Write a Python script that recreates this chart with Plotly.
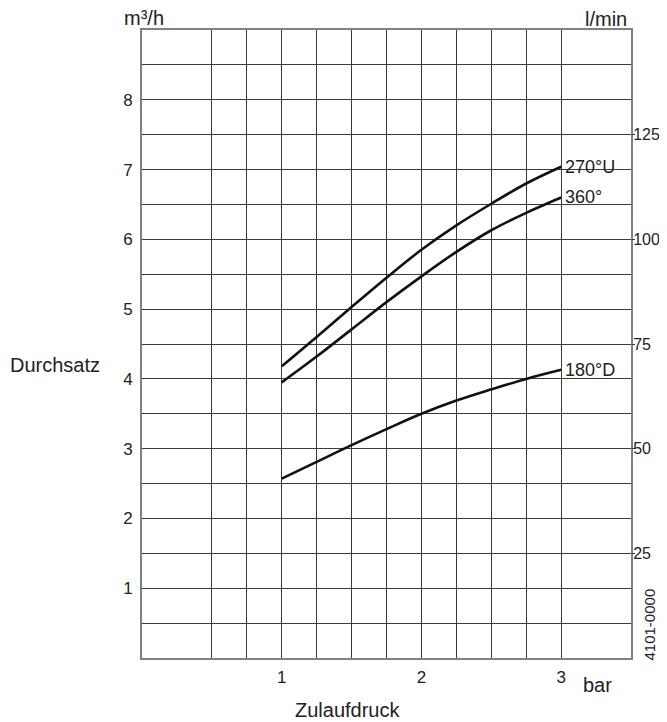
import plotly.graph_objects as go

# Data
pressure_bar = [1.0, 1.25, 1.5, 1.75, 2.0, 2.25, 2.5, 2.75, 3.0]
flow_270U = [4.18, 4.60, 5.03, 5.45, 5.85, 6.20, 6.51, 6.80, 7.04]
flow_360 = [3.95, 4.32, 4.71, 5.10, 5.47, 5.82, 6.13, 6.38, 6.60]
flow_180D = [2.57, 2.81, 3.05, 3.28, 3.50, 3.69, 3.85, 4.00, 4.13]
series_names = ["270°U", "360°", "180°D"]

x_grid = [0.5, 0.75, 1.0, 1.25, 1.5, 1.75, 2.0, 2.25, 2.5, 2.75, 3.0]
x_tick_labels = {1.0: "1", 2.0: "2", 3.0: "3"}
y_grid = [i * 0.5 for i in range(1, 18)]
y_tick_labels = {float(i): str(i) for i in range(1, 9)}
lmin_ticks = [25, 50, 75, 100, 125]

FONT = "Liberation Sans, Arial, sans-serif"
TXT = "#222222"
LINE = "#10101a"
GRID = "#3a3a3a"

fig = go.Figure()
for name, vals in zip(series_names, [flow_270U, flow_360, flow_180D]):
    fig.add_trace(go.Scatter(x=pressure_bar, y=vals, mode="lines", name=name,
                             line=dict(color=LINE, width=2.6, shape="spline", smoothing=1.0),
                             showlegend=False, hoverinfo="skip"))
    fig.add_annotation(x=pressure_bar[-1], y=vals[-1], text=name, showarrow=False,
                       xanchor="left", yanchor="middle", xshift=2,
                       font=dict(family=FONT, size=18, color=TXT))

# invisible trace on the secondary axis so it renders
fig.add_trace(go.Scatter(x=[0], y=[0], yaxis="y2", mode="markers",
                         marker=dict(opacity=0), showlegend=False, hoverinfo="skip"))

fig.update_layout(
    width=659, height=714,
    margin=dict(l=134, r=36, t=22, b=64, autoexpand=False),
    paper_bgcolor="white", plot_bgcolor="white",
    font=dict(family=FONT, size=17, color=TXT),
    xaxis=dict(range=[0, 3.5], tickvals=x_grid,
               ticktext=[x_tick_labels.get(v, "") for v in x_grid],
               showgrid=True, gridcolor=GRID, gridwidth=1, automargin=False,
               zeroline=False, showline=True, linecolor="#808080", linewidth=2,
               mirror=True, ticks="", ticklabelstandoff=3,
               tickfont=dict(size=17)),
    yaxis=dict(range=[0, 9], tickvals=y_grid,
               ticktext=[y_tick_labels.get(v, "") for v in y_grid],
               showgrid=True, gridcolor=GRID, gridwidth=1, automargin=False,
               zeroline=False, showline=True, linecolor="#808080", linewidth=2,
               mirror=True, ticks="", ticklabelstandoff=4,
               tickfont=dict(size=17)),
    yaxis2=dict(range=[0, 150], overlaying="y", side="right", automargin=False,
                tickvals=lmin_ticks, ticks="outside", ticklen=3, tickcolor=GRID,
                showgrid=False, zeroline=False, showline=False,
                ticklabelstandoff=-5, tickfont=dict(size=16)),
)

ann_font = dict(family=FONT, size=20, color=TXT)
fig.add_annotation(xref="paper", yref="paper", x=0, y=1, xanchor="center", yanchor="bottom",
                   xshift=2, yshift=-1, text="m³/h", showarrow=False, font=ann_font)
fig.add_annotation(xref="paper", yref="paper", x=1, y=1, xanchor="right", yanchor="bottom",
                   xshift=-2, yshift=-2, text="l/min", showarrow=False, font=ann_font)
fig.add_annotation(xref="paper", yref="y", x=-0.274, y=4.2, xanchor="left", yanchor="middle",
                   text="Durchsatz", showarrow=False, font=ann_font)
fig.add_annotation(xref="x", yref="paper", x=1.47, y=0, xanchor="center", yanchor="middle",
                   yshift=-52, text="Zulaufdruck", showarrow=False, font=ann_font)
fig.add_annotation(xref="x", yref="paper", x=3.26, y=0, xanchor="center", yanchor="middle",
                   yshift=-27, text="bar", showarrow=False, font=ann_font)
fig.add_annotation(xref="paper", yref="y", x=1, y=0.48, xanchor="center", yanchor="middle",
                   xshift=19, text="4101-0000", textangle=-90, showarrow=False,
                   font=dict(family=FONT, size=15, color=TXT))

fig.write_html("out.html")
